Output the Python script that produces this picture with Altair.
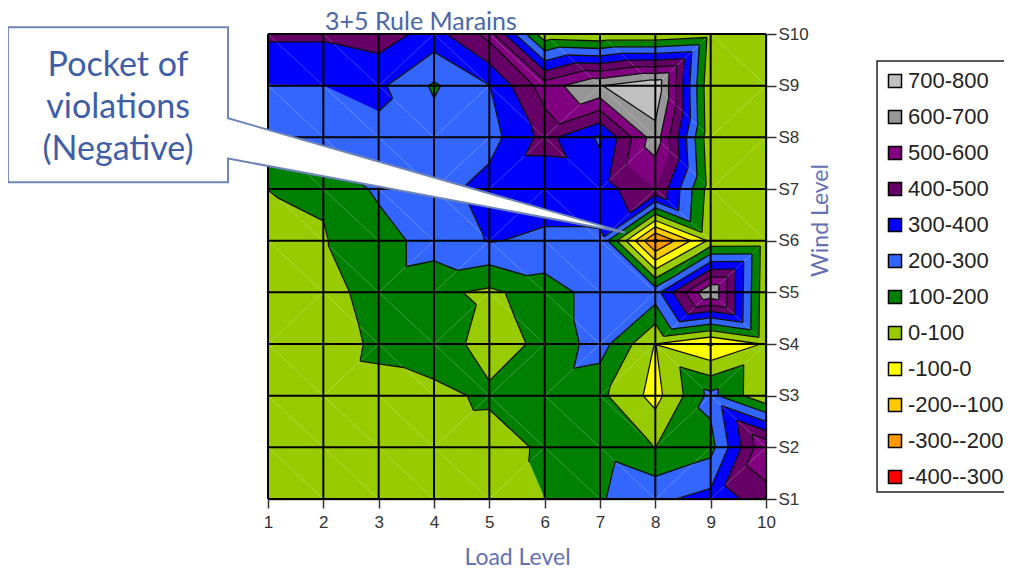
import altair as alt
import pandas as pd

# Load levels (columns) and wind levels (rows, S1 at the start)
load_levels = [1, 2, 3, 4, 5, 6, 7, 8, 9, 10]
wind_levels = [1, 2, 3, 4, 5, 6, 7, 8, 9, 10]
s1 = [50, 50, 50, 50, 50, 100, 190, 280, 335, 455]
s2 = [50, 50, 50, 50, 45, 120, 170, 98, 165, 590]
s3 = [50, 50, 60, 70, 120, 150, 123, -35, 230, 10]
s4 = [50, 35, 125, 165, 50, 125, 245, -3, -110, 12]
s5 = [50, 55, 150, 122, 80, 150, 245, 260, 700, 20]
s6 = [50, 95, 150, 250, 305, 285, 285, -320, 25, 30]
s7 = [101, 108, 221, 260, 340, 340, 350, 500, 50, 50]
s8 = [260, 260, 280, 240, 260, 433, 285, 660, 20, 50]
s9 = [298, 300, 320, 187, 298, 550, 695, 785, 5, 50]
s10 = [418, 418, 449, 360, 536, 30, 7, 7, 50, 50]
rows = [s1, s2, s3, s4, s5, s6, s7, s8, s9, s10]

band_low = [700, 600, 500, 400, 300, 200, 100, 0, -100, -200, -300, -400]
band_names = ["700-800", "600-700", "500-600", "400-500", "300-400", "200-300",
              "100-200", "0-100", "-100-0", "-200--100", "-300--200", "-400--300"]
band_colors = ["#c0c0c0", "#969696", "#800080", "#660066", "#0000ff", "#3366ff",
               "#008000", "#99cc00", "#ffff00", "#ffcc00", "#ff9900", "#ff0000"]

callout_x = [-3.70, 0.277, 0.277, 7.45, 0.277, 0.277, -3.70, -3.70]
callout_y = [10.13, 10.13, 8.37, 6.16, 7.59, 7.13, 7.13, 10.13]
callout_lines = ["Pocket of", "violations", "(Negative)"]
callout_line_y = [9.38, 8.56, 7.75]
callout_text_x = -1.71
legend_frame = {"x": [12.007], "x2": [14.77], "y": [9.476], "y2": [1.136]}

TITLE_BLUE = "#4a68a8"
AXIS_BLUE = "#6470b4"
FONT = "Lato"


def triangles():
    for j in range(len(wind_levels) - 1):
        for i in range(len(load_levels) - 1):
            a = (load_levels[i], wind_levels[j], rows[j][i])
            b = (load_levels[i + 1], wind_levels[j], rows[j][i + 1])
            c = (load_levels[i + 1], wind_levels[j + 1], rows[j + 1][i + 1])
            d = (load_levels[i], wind_levels[j + 1], rows[j + 1][i])
            # the cell's diagonal never touches its lowest corner
            if min(a[2], c[2]) > min(b[2], d[2]):
                yield (a, b, c)
                yield (a, c, d)
            else:
                yield (a, b, d)
                yield (b, c, d)


def cut(p, q, level):
    t = (level - p[2]) / (q[2] - p[2])
    return (p[0] + t * (q[0] - p[0]), p[1] + t * (q[1] - p[1]), level)


def clip(poly, level, keep_above):
    out = []
    for k, p in enumerate(poly):
        q = poly[(k + 1) % len(poly)]
        p_in = p[2] >= level if keep_above else p[2] <= level
        q_in = q[2] >= level if keep_above else q[2] <= level
        if p_in:
            out.append(p)
        if p_in != q_in:
            out.append(cut(p, q, level))
    return out


poly_rows, line_rows, diag_rows = [], [], []
pid = 0
lid = 0
did = 0
for t_index, tri in enumerate(triangles()):
    if t_index % 2 == 0:
        # first triangle of a cell: its last side is the cell's diagonal
        for n, p in enumerate((tri[2], tri[0]) if tri[1][0] != tri[0][0] and tri[1][1] == tri[0][1] and tri[2][0] == tri[1][0] else (tri[1], tri[2])):
            diag_rows.append({"x": p[0], "y": p[1], "id": did, "n": n})
        did += 1
    for low, name, col in zip(band_low, band_names, band_colors):
        poly = clip(list(tri), low, True)
        if len(poly) >= 3:
            poly = clip(poly, low + 100, False)
        if len(poly) >= 3:
            for n, p in enumerate(poly + poly[:1]):
                poly_rows.append({"x": p[0], "y": p[1], "id": pid, "n": n,
                                  "band": name, "color": col})
            pid += 1
    for level in band_low:
        pts = []
        for k in range(3):
            p, q = tri[k], tri[(k + 1) % 3]
            if (p[2] - level) * (q[2] - level) < 0:
                pts.append(cut(p, q, level))
        if len(pts) == 2:
            for n, p in enumerate(pts):
                line_rows.append({"x": p[0], "y": p[1], "id": lid, "n": n})
            lid += 1

x_scale = alt.Scale(domain=[1, 10], nice=False, zero=False)
y_scale = alt.Scale(domain=[1, 10], nice=False, zero=False)
fill_scale = alt.Scale(domain=band_names, range=band_colors)

x_axis = alt.Axis(values=load_levels, format="d", grid=False, tickSize=9, tickColor="#333333",
                  tickWidth=1.5, domainColor="#555555", domainWidth=1.5,
                  labelFont="Liberation Sans", labelFontSize=17, labelColor="#333333",
                  labelPadding=6, labelFlush=False, title="Load Level", titleFont=FONT,
                  titleFontSize=23, titleFontWeight="normal", titleColor=AXIS_BLUE,
                  titlePadding=16)
y_axis = alt.Axis(orient="right", values=wind_levels, grid=False, tickSize=10,
                  tickColor="#333333", tickWidth=1.5, domainColor="#555555", domainWidth=1.5,
                  labelExpr="'S' + datum.value", labelFont="Liberation Sans", labelFontSize=17,
                  labelColor="#333333", labelPadding=2, title="Wind Level", titleFont=FONT,
                  titleFontSize=23, titleFontWeight="normal", titleColor=AXIS_BLUE,
                  titleAngle=270, titleX=54, titleY=186, titleAlign="center",
                  titleBaseline="middle")

legend = alt.Legend(orient="none", legendX=616, legendY=36, title=None, symbolType="square",
                    symbolSize=170, symbolStrokeColor="black", symbolStrokeWidth=1.5,
                    labelFont="Liberation Sans", labelFontSize=22,
                    labelColor="#222222", labelOffset=2, rowPadding=14, padding=0,
                    columns=1)

frame = alt.Chart(pd.DataFrame(legend_frame)).mark_rect(
    fill="white", stroke="#222222", strokeWidth=1.5).encode(
    x=alt.X("x:Q", scale=x_scale, axis=x_axis),
    x2="x2:Q",
    y=alt.Y("y:Q", scale=y_scale, axis=y_axis),
    y2="y2:Q",
)

legend_layer = alt.Chart(pd.DataFrame({"band": band_names, "x": [5] * 12, "y": [5] * 12})).mark_square(
    size=1, opacity=1).encode(
    x=alt.X("x:Q", scale=x_scale),
    y=alt.Y("y:Q", scale=y_scale),
    fill=alt.Fill("band:N", scale=fill_scale, legend=legend),
)

fills = alt.Chart(pd.DataFrame(poly_rows)).mark_line(strokeWidth=0.7, clip=True).encode(
    x=alt.X("x:Q", scale=x_scale),
    y=alt.Y("y:Q", scale=y_scale),
    fill=alt.Fill("band:N", scale=fill_scale, legend=None),
    stroke=alt.Stroke("color:N", scale=None),
    detail="id:N",
    order="n:Q",
)

diagonals = alt.Chart(pd.DataFrame(diag_rows)).mark_line(color="white", strokeWidth=1, opacity=0.2, clip=True).encode(
    x=alt.X("x:Q", scale=x_scale),
    y=alt.Y("y:Q", scale=y_scale),
    detail="id:N",
    order="n:Q",
)

contours = alt.Chart(pd.DataFrame(line_rows)).mark_line(color="#101010", strokeWidth=1.3, clip=True).encode(
    x=alt.X("x:Q", scale=x_scale),
    y=alt.Y("y:Q", scale=y_scale),
    detail="id:N",
    order="n:Q",
)

grid_x = alt.Chart(pd.DataFrame({"x": load_levels})).mark_rule(color="#000000", strokeWidth=2).encode(
    x=alt.X("x:Q", scale=x_scale))
grid_y = alt.Chart(pd.DataFrame({"y": wind_levels})).mark_rule(color="#000000", strokeWidth=2).encode(
    y=alt.Y("y:Q", scale=y_scale))

callout_df = pd.DataFrame({"x": callout_x, "y": callout_y, "n": range(len(callout_x))})
callout = alt.Chart(callout_df).mark_line(fill="white", stroke="#6f85b8", strokeWidth=2).encode(
    x=alt.X("x:Q", scale=x_scale),
    y=alt.Y("y:Q", scale=y_scale),
    order="n:Q",
)
callout_text = alt.Chart(pd.DataFrame({"t": callout_lines, "y": callout_line_y,
                                       "x": [callout_text_x] * 3})).mark_text(
    font=FONT, fontSize=34, color="#3f5ea8", align="center", baseline="middle").encode(
    x=alt.X("x:Q", scale=x_scale),
    y=alt.Y("y:Q", scale=y_scale),
    text="t:N",
)

chart = alt.layer(frame, legend_layer, fills, diagonals, contours, grid_x, grid_y, callout, callout_text).properties(
    width=498,
    height=465,
    padding={"left": 260, "top": 26, "right": 238, "bottom": 71},
    autosize=alt.AutoSizeParams(type="none"),
    title=alt.TitleParams("3+5 Rule Marains", anchor="start", frame="group", dx=57, offset=-12,
                          font=FONT, fontSize=25, fontWeight="normal", color=TITLE_BLUE),
).configure_view(stroke=None)

chart.save("out.html", embed_options={"renderer": "svg", "actions": False})
